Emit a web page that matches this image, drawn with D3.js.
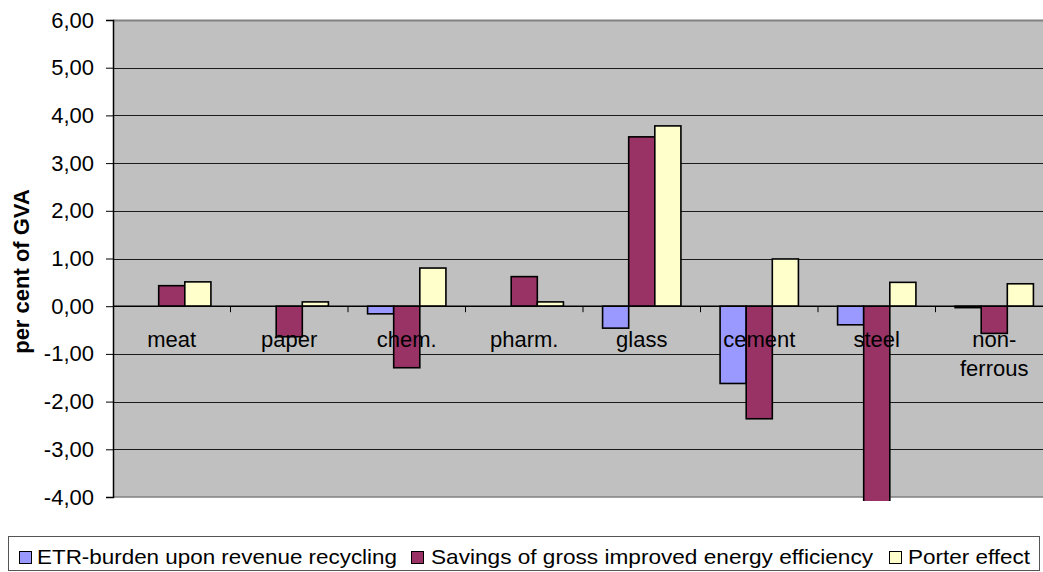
<!DOCTYPE html>
<html>
<head>
<meta charset="utf-8">
<script src="https://cdn.jsdelivr.net/npm/d3@7"></script>
<style>
  html, body { margin: 0; padding: 0; background: #fff; }
  svg { display: block; font-family: "Liberation Sans", Arial, sans-serif; }
</style>
</head>
<body>
<svg id="chart" width="1043" height="572"></svg>
<script>
// Sectors along the category axis
const categories = ["meat", "paper", "chem.", "pharm.", "glass", "cement", "steel", "non-ferrous"];
// Label lines per sector (non-ferrous wraps onto two lines)
const categoryLines = [["meat"], ["paper"], ["chem."], ["pharm."], ["glass"], ["cement"], ["steel"], ["non-", "ferrous"]];

// Series names and values, per cent of GVA
const seriesNames = [
  "ETR-burden upon revenue recycling",
  "Savings of gross improved energy efficiency",
  "Porter effect"
];
const etrBurden      = [0.00, 0.00, -0.16, 0.00, -0.46, -1.62, -0.39, -0.03];
const energySavings  = [0.43, -0.64, -1.29, 0.62, 3.55, -2.36, -4.30, -0.57];
const porterEffect   = [0.51, 0.09, 0.80, 0.09, 3.78, 0.99, 0.50, 0.47];
const seriesValues = [etrBurden, energySavings, porterEffect];
const seriesColors = ["#9999FF", "#993366", "#FFFFCC"];

// Value axis ticks
const yTicks = [6, 5, 4, 3, 2, 1, 0, -1, -2, -3, -4];
const yTitle = "per cent of GVA";

const svg = d3.select("#chart");
const plot = { left: 113, right: 1053, top: 20, bottom: 497 };

const y = d3.scaleLinear().domain([-4, 6]).range([plot.bottom, plot.top]);
const x = d3.scaleBand().domain(categories).range([plot.left, plot.right]).padding(0);
// Gap width of 150%: three bars + 1.5 bar widths of gap per category
const barW = x.bandwidth() / 4.5;
const inner = d3.scaleBand().domain(d3.range(seriesNames.length))
  .range([barW * 0.75, barW * 0.75 + barW * 3]).padding(0);

// Decimal comma, plain hyphen for negatives
const fmt = v => d3.format(".2f")(v).replace(".", ",").replace("\u2212", "-");

// Plot background
svg.append("rect")
  .attr("x", plot.left).attr("y", plot.top)
  .attr("width", plot.right - plot.left).attr("height", plot.bottom - plot.top)
  .attr("fill", "#C0C0C0");

// Horizontal gridlines
svg.append("g")
  .selectAll("line")
  .data(yTicks.filter(t => t !== 6 && t !== -4))
  .join("line")
  .attr("x1", plot.left).attr("x2", plot.right)
  .attr("y1", d => Math.round(y(d)) + 0.5).attr("y2", d => Math.round(y(d)) + 0.5)
  .attr("stroke", "#1a1a1a").attr("stroke-width", 1);

// Plot border (top and bottom in grey)
svg.append("line")
  .attr("x1", plot.left).attr("x2", plot.right)
  .attr("y1", plot.top + 0.5).attr("y2", plot.top + 0.5)
  .attr("stroke", "#808080").attr("stroke-width", 2);
svg.append("line")
  .attr("x1", plot.left).attr("x2", plot.right)
  .attr("y1", plot.bottom).attr("y2", plot.bottom)
  .attr("stroke", "#808080").attr("stroke-width", 1.5);

// Bars
svg.append("defs").append("clipPath").attr("id", "barclip")
  .append("rect").attr("x", plot.left).attr("y", plot.top - 2)
  .attr("width", plot.right - plot.left).attr("height", plot.bottom - plot.top + 6);

const bars = svg.append("g").attr("clip-path", "url(#barclip)");
seriesValues.forEach((vals, si) => {
  bars.append("g")
    .selectAll("rect")
    .data(vals.map((v, i) => ({ v, c: categories[i] })))
    .join("rect")
    .filter(d => d.v !== 0)
    .attr("x", d => x(d.c) + inner(si))
    .attr("width", inner.bandwidth())
    .attr("y", d => y(Math.max(0, d.v)))
    .attr("height", d => Math.abs(y(d.v) - y(0)))
    .attr("fill", seriesColors[si])
    .attr("stroke", "#000").attr("stroke-width", 1.6);
});

// Value axis
const yAxis = d3.axisLeft(y).tickValues(yTicks).tickSize(7).tickPadding(12).tickFormat(fmt);
const yg = svg.append("g").attr("transform", `translate(${plot.left},0)`).call(yAxis);
yg.select(".domain").attr("stroke", "#000").attr("stroke-width", 1.5);
yg.selectAll(".tick line").attr("stroke", "#000");
yg.selectAll(".tick text").attr("font-size", 22).attr("fill", "#000")
  .attr("font-family", "'Liberation Sans', Arial, sans-serif");

// Category axis along zero line, ticks between categories
const zeroY = y(0);
const xg = svg.append("g").attr("transform", `translate(0,${zeroY})`);
xg.append("line").attr("x1", plot.left).attr("x2", plot.right)
  .attr("y1", 0).attr("y2", 0).attr("stroke", "#000").attr("stroke-width", 1.5);
xg.selectAll(".cattick")
  .data(categories.slice(1))
  .join("line")
  .attr("class", "cattick")
  .attr("x1", d => x(d)).attr("x2", d => x(d))
  .attr("y1", 0).attr("y2", 6)
  .attr("stroke", "#000").attr("stroke-width", 1);

const labels = xg.selectAll(".catlabel")
  .data(categories.map((c, i) => ({ c, lines: categoryLines[i] })))
  .join("text")
  .attr("class", "catlabel")
  .attr("text-anchor", "middle")
  .attr("font-size", 22)
  .attr("fill", "#000");
labels.selectAll("tspan")
  .data(d => d.lines.map((l, k) => ({ l, k, c: d.c })))
  .join("tspan")
  .attr("x", d => x(d.c) + x.bandwidth() / 2)
  .attr("y", d => 41 + d.k * 29)
  .text(d => d.l);

// Axis title
svg.append("text")
  .attr("transform", `translate(29,${(plot.top + plot.bottom) / 2 + 13}) rotate(-90)`)
  .attr("text-anchor", "middle")
  .attr("font-size", 22).attr("font-weight", "bold").attr("fill", "#000")
  .text(yTitle);

// Legend
const legend = svg.append("g");
legend.append("rect")
  .attr("x", 8.5).attr("y", 536.5).attr("width", 1031).attr("height", 34)
  .attr("fill", "#fff").attr("stroke", "#555").attr("stroke-width", 1);
const legendX = [19, 411, 889];
const legendTextX = [37, 431, 908];
const legendTextW = [360, 442, 122];
seriesNames.forEach((name, i) => {
  legend.append("rect")
    .attr("x", legendX[i] + 0.5).attr("y", 551.5).attr("width", 12).attr("height", 12)
    .attr("fill", seriesColors[i]).attr("stroke", "#000").attr("stroke-width", 1);
  legend.append("text")
    .attr("x", legendTextX[i]).attr("y", 564)
    .attr("font-size", 21).attr("fill", "#000")
    .attr("textLength", legendTextW[i]).attr("lengthAdjust", "spacingAndGlyphs")
    .text(name);
});
</script>
</body>
</html>
